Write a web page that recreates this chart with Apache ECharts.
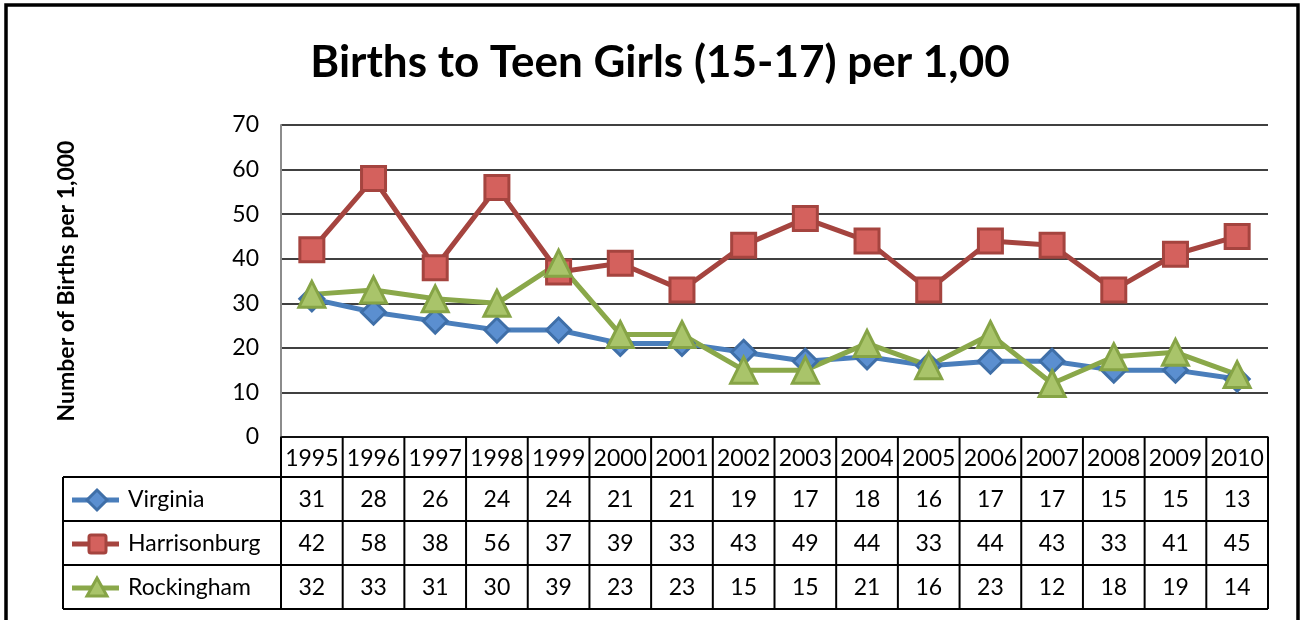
<!DOCTYPE html>
<html><head><meta charset="utf-8">
<script src="https://cdn.jsdelivr.net/npm/echarts@6/dist/echarts.min.js"></script>
<style>html,body{margin:0;padding:0;background:#fff}#c{width:1304px;height:620px}</style>
</head><body><div id="c"></div>
<script>
const years = ['1995','1996','1997','1998','1999','2000','2001','2002','2003','2004','2005','2006','2007','2008','2009','2010'];
const virginia = [31,28,26,24,24,21,21,19,17,18,16,17,17,15,15,13];
const harrisonburg = [42,58,38,56,37,39,33,43,49,44,33,44,43,33,41,45];
const rockingham = [32,33,31,30,39,23,23,15,15,21,16,23,12,18,19,14];
const seriesNames = ['Virginia','Harrisonburg','Rockingham'];
const yTicks = [0,10,20,30,40,50,60,70];

const FONT = 'Lato, "Open Sans", sans-serif';
const styles = [
  {line:'#4a7ebb', fill:'#5b8fd0', border:'#3f6fa8', symbol:'diamond', size:24},
  {line:'#a5443f', fill:'#d4615d', border:'#a5443f', symbol:'rect', size:24},
  {line:'#8aa84a', fill:'#a9c46a', border:'#86a446', symbol:'triangle', size:26}
];
const dataSets = [virginia, harrisonburg, rockingham];

const G = {left:281, right:36, top:125, bottom:183};
const chart = echarts.init(document.getElementById('c'));
chart.setOption({
  animation:false,
  backgroundColor:'#fff',
  title:{text:'Births to Teen Girls (15-17) per 1,00', left:655, top:36, textAlign:'center',
    textStyle:{fontFamily:FONT, fontWeight:'bold', fontSize:44, color:'#000'}},
  grid:{left:G.left, right:G.right, top:G.top, bottom:G.bottom},
  xAxis:{type:'category', data:years, boundaryGap:true,
    axisLine:{show:true, lineStyle:{color:'#000', width:1.5}}, axisTick:{show:false}, axisLabel:{show:false}},
  yAxis:{type:'value', min:0, max:70, interval:10,
    name:'Number of Births per 1,000', nameLocation:'middle', nameGap:203, nameRotate:90,
    nameTextStyle:{fontFamily:FONT, fontWeight:'bold', fontSize:23, color:'#000'},
    axisLine:{show:true, lineStyle:{color:'#8c8c8c', width:2}}, axisTick:{show:false},
    axisLabel:{fontFamily:FONT, fontSize:23, color:'#000', margin:22,
      formatter:v=>yTicks.includes(v)?String(v):''},
    splitLine:{show:true, lineStyle:{color:'#000', width:1.5}}},
  series: dataSets.map((d,i)=>({
    name:seriesNames[i], type:'line', data:d, symbol:styles[i].symbol, symbolSize:styles[i].size,
    lineStyle:{color:styles[i].line, width:5},
    itemStyle:{color:styles[i].fill, borderColor:styles[i].border, borderWidth:3}
  }))
});

// Build the data table from the arrays
const n = years.length;
const x0 = chart.convertToPixel({xAxisIndex:0}, years[0]);
const x1 = chart.convertToPixel({xAxisIndex:0}, years[1]);
const colW = x1 - x0;
const plotL = G.left, plotR = 1304 - G.right;
const axisY = chart.convertToPixel({yAxisIndex:0}, 0);
const headH = 40, rowH = 44;
const tableL = 63;
const g = [];
const line = (a,b,c,d,w)=>g.push({type:'line', shape:{x1:a,y1:b,x2:c,y2:d}, style:{stroke:'#000', lineWidth:w||2}, z:10});
const txt = (t,x,y,align)=>g.push({type:'text', x:x, y:y, style:{text:t, font:'23px '+FONT, fill:'#000', align:align||'center', verticalAlign:'middle'}, z:11});
const bottomY = axisY + headH + 3*rowH;
for (let i=0;i<=n;i++){ const xx = plotL + i*colW; line(xx, axisY, xx, bottomY); }
line(tableL, axisY+headH, tableL, bottomY);
line(tableL, axisY+headH, plotR, axisY+headH);
for (let r=1;r<=3;r++){ line(tableL, axisY+headH+r*rowH, plotR, axisY+headH+r*rowH); }
years.forEach((y,i)=>txt(y, chart.convertToPixel({xAxisIndex:0}, y), axisY+headH/2+2));
dataSets.forEach((d,r)=>{
  const cy = axisY+headH+r*rowH+rowH/2+1;
  d.forEach((v,i)=>txt(String(v), chart.convertToPixel({xAxisIndex:0}, years[i]), cy));
  const s = styles[r];
  g.push({type:'line', shape:{x1:72,y1:cy,x2:119,y2:cy}, style:{stroke:s.line, lineWidth:5}, z:11});
  if (s.symbol==='diamond') g.push({type:'polygon', shape:{points:[[97,cy-10],[107,cy],[97,cy+10],[87,cy]]}, style:{fill:s.fill, stroke:s.border, lineWidth:3}, z:12});
  if (s.symbol==='rect') g.push({type:'rect', shape:{x:89,y:cy-9,width:17,height:18,r:2}, style:{fill:s.fill, stroke:s.border, lineWidth:3}, z:12});
  if (s.symbol==='triangle') g.push({type:'polygon', shape:{points:[[97,cy-10],[107,cy+8],[87,cy+8]]}, style:{fill:s.fill, stroke:s.border, lineWidth:3}, z:12});
  txt(seriesNames[r], 128, cy, 'left');
});
g.push({type:'rect', shape:{x:6, y:5, width:1292, height:640}, style:{fill:null, stroke:'#000', lineWidth:3.5}, z:20});
chart.setOption({graphic:g});
</script></body></html>
